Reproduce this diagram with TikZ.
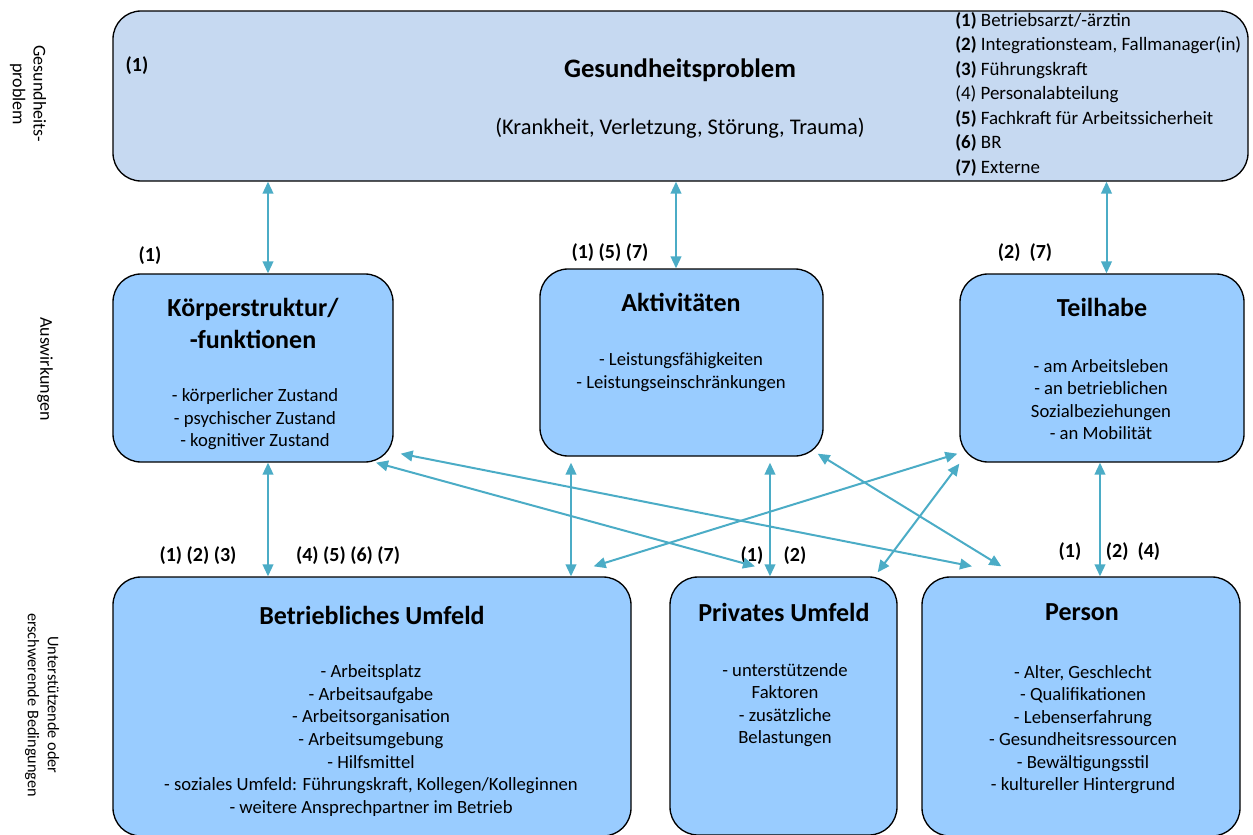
\documentclass[tikz,border=0pt]{standalone}
\usepackage{fontspec}
\setmainfont{Carlito}
\usetikzlibrary{arrows.meta}

\definecolor{probfill}{HTML}{C6D9F1}
\definecolor{boxfill}{HTML}{99CCFF}
\definecolor{linkcol}{HTML}{4BACC6}

\begin{document}
\begin{tikzpicture}[x=0.75pt, y=-0.75pt,
    box/.style={draw, line width=1pt, fill=boxfill, rounded corners=21pt, inner sep=0pt},
    link/.style={linkcol, line width=1.5pt,
      {Triangle[length=9pt,width=8pt]}-{Triangle[length=9pt,width=8pt]}},
    ttl/.style={font=\fontsize{19.5}{24}\selectfont\bfseries, align=center},
    items/.style={font=\fontsize{14}{16.9}\selectfont, align=center},
    num/.style={font=\fontsize{15}{17}\selectfont\bfseries},
    side/.style={font=\fontsize{13.5}{15.5}\selectfont, align=center, rotate=-90}]

    \clip (0,0) rectangle (1253,835);

    % rows: problem, effects, conditions
    \node (top) [box, fill=probfill, minimum width=851.25pt, minimum height=127.5pt] at (680.5,96) {};

    \node (koerper) [box, minimum width=210pt, minimum height=141pt] at (253,368) {};
    \node (aktiv) [box, minimum width=212.25pt, minimum height=140.25pt] at (681.5,362.5) {};
    \node (teilhabe) [box, minimum width=213pt, minimum height=141pt] at (1102,368) {};

    \node (betrieb) [box, minimum width=388.5pt, minimum height=194.25pt] at (372,706.5) {};
    \node (privat) [box, minimum width=170.25pt, minimum height=193.5pt] at (783.5,706) {};
    \node (person) [box, minimum width=238.5pt, minimum height=194.25pt] at (1081,706.5) {};


    \node (sideprob) [side] at (28,94) {Gesundheits-\\problem};
    \node (sideeff) [side] at (45,369) {Auswirkungen};
    \node (sidecond) [side, font=\fontsize{12.2}{15}\selectfont] at (42,705)
      {Unterstützende oder\\erschwerende Bedingungen};


    \node (probnum) [num] at (137,66) {(1)};
    \node (probttl) [font=\fontsize{20}{24}\selectfont\bfseries] at (680,70) {Gesundheitsproblem};
    \node (probsub) [font=\fontsize{16.8}{20}\selectfont] at (680,128)
      {(Krankheit, Verletzung, Störung, Trauma)};
    \node (legend) [anchor=north west, align=left, inner sep=0pt,
      font=\fontsize{14.2}{18.4}\selectfont] at (955,12)
      {\textbf{(1)} Betriebsarzt/-ärztin\\
       \textbf{(2)} Integrationsteam, Fallmanager(in)\\
       \textbf{(3)} Führungskraft\\
       (4) Personalabteilung\\
       \textbf{(5)} Fachkraft für Arbeitssicherheit\\
       \textbf{(6)} BR\\
       \textbf{(7)} Externe};


    \node (koerperttl) [ttl] at (253,323) {Körperstruktur/\\-funktionen};
    \node (koerperitems) [items] at (255,419.5)
      {- körperlicher Zustand\\- psychischer Zustand\\- kognitiver Zustand};

    \node (aktivttl) [ttl] at (681,302) {Aktivitäten};
    \node (aktivitems) [items] at (681,372)
      {- Leistungsfähigkeiten\\- Leistungseinschränkungen};

    \node (teilhabettl) [ttl] at (1102,307) {Teilhabe};
    \node (teilhabeitems) [items] at (1101,399.5)
      {- am Arbeitsleben\\- an betrieblichen\\Sozialbeziehungen\\- an Mobilität};

    \node (betriebttl) [ttl] at (372,615) {Betriebliches Umfeld};
    \node (betriebitems) [items] at (371,740.5)
      {- Arbeitsplatz\\- Arbeitsaufgabe\\- Arbeitsorganisation\\- Arbeitsumgebung\\- Hilfsmittel\\
       - soziales Umfeld: Führungskraft, Kollegen/Kolleginnen\\- weitere Ansprechpartner im Betrieb};

    \node (privatttl) [ttl] at (784,612) {Privates Umfeld};
    \node (privatitems) [items] at (785,705)
      {- unterstützende\\Faktoren\\- zusätzliche\\Belastungen};

    \node (personttl) [ttl] at (1082,612) {Person};
    \node (personitems) [items] at (1083,729.5)
      {- Alter, Geschlecht\\- Qualifikationen\\- Lebenserfahrung\\- Gesundheitsressourcen\\
       - Bewältigungsstil\\- kultureller Hintergrund};


    % who is involved where
    \node (nk) [num] at (150,256) {(1)};
    \node (na) [num] at (610,253) {(1) (5) (7)};
    \node (nt) [num] at (1025,253) {(2)\ \ (7)};
    \node (nb1) [num] at (198,556) {(1) (2) (3)};
    \node (nb2) [num] at (348,556) {(4) (5) (6) (7)};
    \node (np1) [num] at (752,556) {(1)};
    \node (np2) [num] at (795,556) {(2)};
    \node (ne1) [num] at (1070,552) {(1)};
    \node (ne2) [num] at (1133,552) {(2)\ \ (4)};


    \coordinate (kin) at ([xshift=11.25pt]koerper.north);
    \coordinate (ain) at ([xshift=-4.125pt]aktiv.north);
    \coordinate (tin) at ([xshift=3.375pt]teilhabe.north);
    \coordinate (kout) at ([xshift=11.25pt]koerper.south);
    \coordinate (aout) at ([xshift=-82.875pt,yshift=-4.5pt]aktiv.south);
    \coordinate (apout) at ([xshift=66.375pt,yshift=-4.5pt]aktiv.south);
    \coordinate (tout) at ([xshift=-1.5pt]teilhabe.south);

    \draw [link] (top.south -| kin) -- (kin);
    \draw [link] (top.south -| ain) -- (ain);
    \draw [link] (top.south -| tin) -- (tin);

    \draw [link] (kout) -- (betrieb.north -| kout);
    \draw [link] (aout) -- (betrieb.north -| aout);
    \draw [link] (apout) -- (privat.north -| apout);
    \draw [link] (tout) -- (person.north -| tout);

    \draw [link] ([xshift=92.25pt]koerper.south) -- ([xshift=-21.4pt,yshift=7.5pt]privat.north);
    \draw [link] ([xshift=5.25pt,yshift=6.75pt]koerper.south east) -- ([xshift=-81.75pt,yshift=7.5pt]person.north);
    \draw [link] ([xshift=-4.5pt,yshift=2.25pt]aktiv.south east) -- ([xshift=60pt,yshift=7.5pt]person.north west);
    \draw [link] ([xshift=-1.5pt,yshift=6.75pt]teilhabe.south west) -- ([xshift=-28.5pt,yshift=7.5pt]betrieb.north east);
    \draw [link] ([yshift=-0.75pt]teilhabe.south west) -- ([xshift=-15pt,yshift=3pt]privat.north east);

  \end{tikzpicture}
\end{document}
